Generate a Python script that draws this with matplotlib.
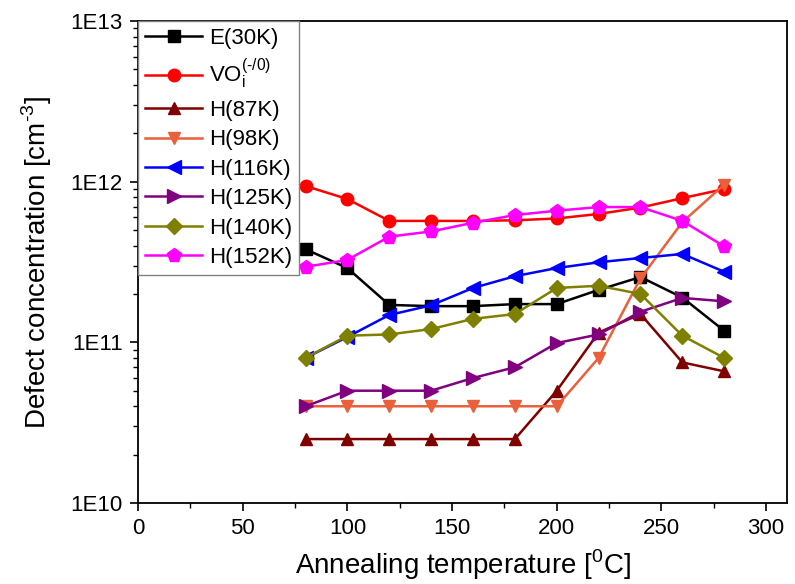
import math
import matplotlib.pyplot as plt
from matplotlib.ticker import FixedLocator, FuncFormatter, LogLocator, MultipleLocator, NullFormatter

plt.rcParams['font.family'] = ['Liberation Sans', 'DejaVu Sans']
plt.rcParams['mathtext.fontset'] = 'custom'
plt.rcParams['mathtext.rm'] = 'Liberation Sans'
plt.rcParams['axes.unicode_minus'] = False

temps = [80, 100, 120, 140, 160, 180, 200, 220, 240, 260, 280]

e30 = [3.8e11, 2.9e11, 1.71e11, 1.68e11, 1.68e11, 1.73e11, 1.73e11, 2.12e11, 2.55e11, 1.9e11, 1.18e11]
vo = [9.4e11, 7.8e11, 5.7e11, 5.7e11, 5.7e11, 5.75e11, 5.9e11, 6.3e11, 6.9e11, 7.9e11, 9.0e11]
h87 = [2.5e10, 2.5e10, 2.5e10, 2.5e10, 2.5e10, 2.5e10, 5.0e10, 1.15e11, 1.5e11, 7.5e10, 6.6e10]
h98 = [4.0e10, 4.0e10, 4.0e10, 4.0e10, 4.0e10, 4.0e10, 4.0e10, 8.0e10, 2.5e11, 5.6e11, 9.6e11]
h116 = [8.0e10, 1.08e11, 1.48e11, 1.7e11, 2.18e11, 2.58e11, 2.9e11, 3.15e11, 3.35e11, 3.55e11, 2.75e11]
h125 = [4.0e10, 5.0e10, 5.0e10, 5.0e10, 6.0e10, 7.0e10, 9.9e10, 1.12e11, 1.55e11, 1.89e11, 1.8e11]
h140 = [8.0e10, 1.1e11, 1.12e11, 1.21e11, 1.4e11, 1.5e11, 2.18e11, 2.25e11, 2.0e11, 1.1e11, 8.0e10]
h152 = [2.95e11, 3.26e11, 4.55e11, 4.9e11, 5.55e11, 6.2e11, 6.6e11, 6.95e11, 6.95e11, 5.7e11, 3.95e11]

labels = ['E(30K)', 'VO$_\\mathregular{i}^\\mathregular{(\u2010/0)}$', 'H(87K)', 'H(98K)',
          'H(116K)', 'H(125K)', 'H(140K)', 'H(152K)']
series = [e30, vo, h87, h98, h116, h125, h140, h152]
colors = ['#000000', '#FF0000', '#800000', '#E8603C', '#0000FF', '#800080', '#808000', '#FF00FF']
markers = ['s', 'o', '^', 'v', '<', '>', 'D', 'p']
sizes = [8, 9, 9, 9, 10, 10, 8, 10]

fig = plt.figure(figsize=(7.95, 5.84), dpi=100)
ax = fig.add_axes([0.1736, 0.1387, 0.8164, 0.8253])

for y, lab, c, m, s in zip(series, labels, colors, markers, sizes):
    ax.plot(temps, y, color=c, marker=m, markersize=s, linewidth=1.8, label=lab)

ax.set_yscale('log')
ax.set_ylim(1e10, 1e13)
ax.set_xlim(0, 310)
ax.xaxis.set_major_locator(MultipleLocator(50))
ax.xaxis.set_minor_locator(MultipleLocator(25))
ax.yaxis.set_major_locator(FixedLocator([1e10, 1e11, 1e12, 1e13]))
ax.yaxis.set_major_formatter(FuncFormatter(lambda v, p: '1E%d' % round(math.log10(v))))
ax.yaxis.set_minor_locator(LogLocator(base=10, subs=range(2, 10)))
ax.yaxis.set_minor_formatter(NullFormatter())

ax.tick_params(which='major', direction='out', length=6, width=1.2, labelsize=16, pad=5)
ax.tick_params(which='minor', direction='out', length=3.5, width=1)
for sp in ax.spines.values():
    sp.set_linewidth(1.3)

ax.set_xlabel('Annealing temperature [$^\\mathregular{0}$C]', fontsize=20, labelpad=6)
ax.set_ylabel('Defect concentration [cm$^\\mathregular{\u20103}$]', fontsize=20, labelpad=12)

leg = ax.legend(loc='upper left', fontsize=16, fancybox=False, edgecolor='#808080',
                borderaxespad=0, handlelength=2.6, labelspacing=0.38, borderpad=0.3,
                handletextpad=0.3, framealpha=1)
leg.get_frame().set_linewidth(1)

fig.savefig('out.png', dpi=100)
